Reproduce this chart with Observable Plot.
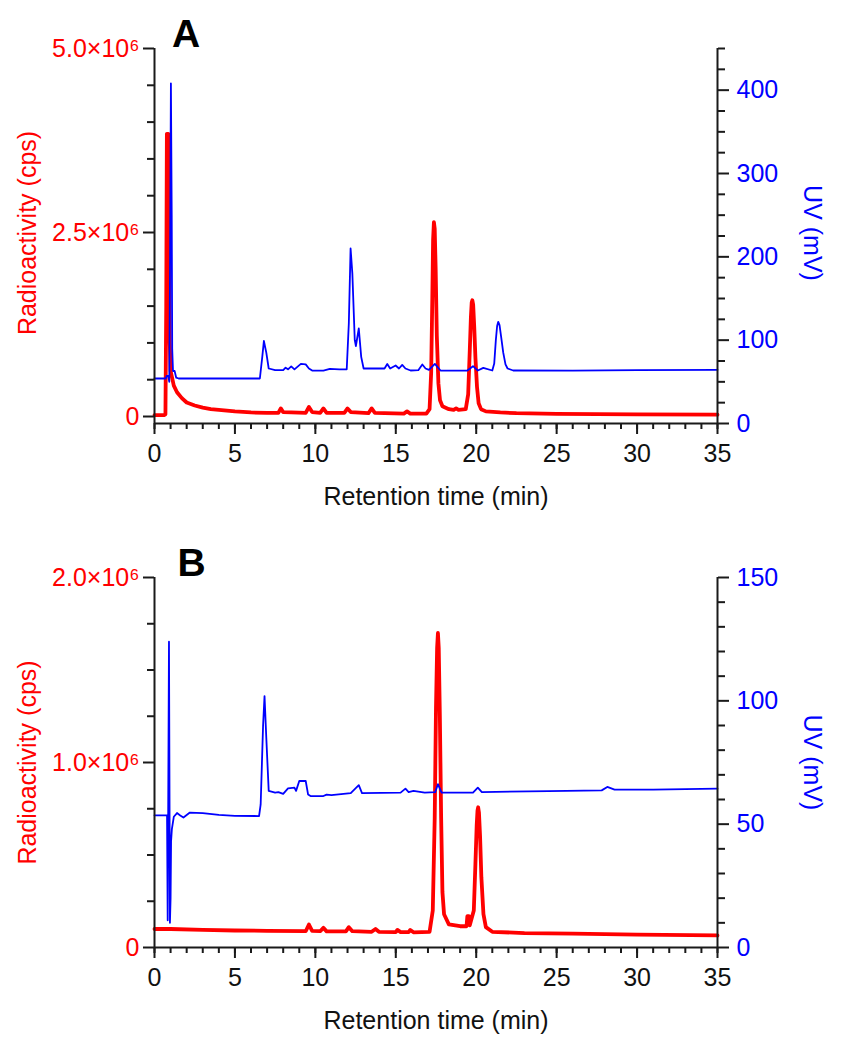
<!DOCTYPE html>
<html><head><meta charset="utf-8">
<script src="https://cdn.jsdelivr.net/npm/d3@7"></script>
<script src="https://cdn.jsdelivr.net/npm/@observablehq/plot@0.6"></script>
<style>
html,body{margin:0;padding:0;background:#fff;}
#chart{width:848px;}
#chart svg{display:block;}
</style></head><body><div id="chart"></div>
<script>
// ---------- Data ----------
// Panel A – radioactivity trace (×10^6 cps)
const radA_t = [0,0.6,0.68,0.73,0.77,0.86,0.9,0.95,1.0,1.2,1.4,1.7,2.0,2.5,3.0,3.5,4.0,5.0,6.0,7.0,7.7,7.85,8.0,8.5,9.4,9.6,9.8,10.3,10.5,10.7,11.8,12.0,12.2,13.3,13.5,13.7,15.5,15.7,15.9,16.9,17.1,17.2,17.27,17.32,17.37,17.42,17.48,17.55,17.65,17.75,17.9,18.3,18.6,18.75,18.9,19.35,19.5,19.6,19.67,19.72,19.76,19.81,19.88,19.95,20.05,20.15,20.3,20.6,21.5,22.5,25,30,35];
const radA   = [0.02,0.02,0.03,1.5,3.84,3.84,2.0,1.0,0.62,0.42,0.33,0.25,0.19,0.15,0.12,0.10,0.09,0.07,0.055,0.05,0.05,0.11,0.06,0.055,0.05,0.13,0.06,0.05,0.11,0.05,0.05,0.11,0.06,0.045,0.11,0.05,0.04,0.07,0.04,0.04,0.1,0.6,1.6,2.4,2.64,2.55,2.0,1.1,0.45,0.22,0.14,0.1,0.09,0.11,0.09,0.1,0.3,0.9,1.35,1.55,1.58,1.52,1.2,0.8,0.4,0.18,0.1,0.07,0.055,0.045,0.035,0.03,0.025];
// Panel A – UV trace (mV)
const uvA_t = [0,0.7,0.75,0.85,0.92,0.97,1.02,1.07,1.1,1.15,1.25,1.35,1.5,6.55,6.7,6.8,6.95,7.1,7.5,8.0,8.15,8.3,8.5,8.7,9.1,9.4,9.6,9.8,10.5,10.9,11.5,11.95,12.08,12.19,12.3,12.45,12.52,12.7,12.85,13.0,14.3,14.47,14.65,14.99,15.2,15.4,15.6,15.92,16.4,16.65,16.85,17.06,17.43,17.78,19.45,19.8,20.1,20.44,21.0,21.12,21.22,21.3,21.37,21.45,21.55,21.68,21.82,21.95,22.3,26,30,35];
const uvA   = [54,54,57,57,50,200,408,250,90,63,63,55,54,54,80,99,85,66,64,64,67,65,68.5,65,71.5,71,66,63.5,63.5,65.5,65,65,120,210,180,100,93,114,80,66,66,71.5,66,69.6,66,70.4,66,63.6,64,70.8,66,64.4,71.6,63.6,63.5,68.8,63.6,66.8,63.6,72,100,117,122,118,104,85,71,66,63.6,63.5,64,64.4];

// Panel B – radioactivity trace (×10^6 cps)
const radB_t = [0,1,3,5,7,9.4,9.6,9.8,10.3,10.5,10.7,11.9,12.08,12.3,13.5,13.74,13.95,15.0,15.1,15.3,15.8,15.9,16.1,17.1,17.3,17.42,17.5,17.57,17.62,17.67,17.74,17.82,17.9,18.0,18.3,19.0,19.4,19.45,19.55,19.6,19.85,19.95,20.03,20.08,20.12,20.17,20.24,20.32,20.45,20.6,21.0,23,26,30,35];
const radB   = [0.10,0.10,0.095,0.092,0.09,0.088,0.124,0.09,0.088,0.106,0.087,0.087,0.11,0.088,0.085,0.10,0.085,0.083,0.095,0.083,0.083,0.095,0.082,0.085,0.2,0.7,1.3,1.62,1.70,1.62,1.25,0.7,0.3,0.18,0.125,0.115,0.115,0.17,0.17,0.12,0.2,0.45,0.66,0.74,0.758,0.73,0.6,0.38,0.18,0.11,0.085,0.078,0.075,0.07,0.065];
// Panel B – UV trace (mV)
const uvB_t = [0,0.78,0.82,0.9,0.96,1.0,1.03,1.08,1.2,1.4,1.6,1.8,2.2,3.0,4.0,5.0,6.5,6.6,6.75,6.84,6.95,7.1,7.5,7.7,8.0,8.3,8.7,8.8,9.0,9.4,9.55,9.7,10.5,10.7,11.0,12.2,12.7,12.9,15.3,15.6,15.8,16.1,16.8,17.45,17.62,17.85,19.8,20.1,20.35,24.5,27.8,28.15,28.6,31,35];
const uvB   = [53.6,53.6,11,124,10,20,43,48,53,54.5,53.5,52.7,54.7,54.5,53.8,53.4,53.3,58,90,101.9,85,63.5,62.8,63,62.3,64.5,64.8,63.5,67.5,67.5,62,61.4,61.4,62,61.8,62.6,65.8,62.6,62.8,64.4,63,63.5,62.8,63,66.2,62.8,62.8,64.8,63,63.4,63.7,65.1,64,64,64.4];

// Axis ticks
const xMajor = [0,5,10,15,20,25,30,35];
const xMinor = d3.range(0,36,1);
const leftMajorA = [0,2.5,5.0];
const leftMinorA = [0.5,1,1.5,2,3,3.5,4,4.5];
const rightMajorA = [0,100,200,300,400];
const rightMinorA = [25,50,75,125,150,175,225,250,275,325,350,375,425,450];
const leftMajorB = [0,1.0,2.0];
const leftMinorB = [0.25,0.5,0.75,1.25,1.5,1.75];
const rightMajorB = [0,50,100,150];
const rightMinorB = [10,20,30,40,60,70,80,90,110,120,130,140];

// ---------- Drawing ----------
const FONT = "'Liberation Sans', Arial, Helvetica, sans-serif";
const AX = "#1a1a1a";
const RED = "#ff0000";
const BLUE = "#0000ff";

function fmtLeft(d) { return d === 0 ? "0" : d.toFixed(1) + "\u00d710\u2076"; }

function panel(o) {
  const toLeft = d3.scaleLinear().domain(o.uvDomain).range(o.yDomain);
  const red = o.radT.map((t, i) => ({t, v: o.rad[i]}));
  const blue = o.uvT.map((t, i) => ({t, v: toLeft(o.uv[i])}));
  return Plot.plot({
    width: 848, height: 525,
    marginLeft: 154, marginRight: 131,
    marginTop: o.marginTop, marginBottom: o.marginBottom,
    style: {fontFamily: FONT, fontSize: "25px", background: "#fff", overflow: "visible", color: AX},
    x: {domain: [0, 35]},
    y: {domain: o.yDomain},
    marks: [
      Plot.line(red, {x: "t", y: "v", stroke: RED, strokeWidth: 3.8}),
      Plot.line(blue, {x: "t", y: "v", stroke: BLUE, strokeWidth: 1.8}),
      Plot.ruleY([o.yDomain[0]], {stroke: AX, strokeWidth: 2}),
      Plot.ruleX([0, 35], {stroke: AX, strokeWidth: 2}),
      Plot.axisX({ticks: xMajor, tickSize: 11, tickPadding: 10, stroke: AX, strokeWidth: 2, fill: "#111", label: null}),
      Plot.axisX({ticks: xMinor, tickSize: 6, stroke: AX, strokeWidth: 2, fill: "none", label: null}),
      Plot.axisY({anchor: "left", ticks: o.leftMajor, tickSize: 11, tickPadding: 4, tickFormat: fmtLeft, stroke: AX, strokeWidth: 2, fill: RED, label: null}),
      Plot.axisY({anchor: "left", ticks: o.leftMinor, tickSize: 7, stroke: AX, strokeWidth: 2, fill: "none", label: null}),
      Plot.axisY({anchor: "right", ticks: o.rightMajor.map(toLeft), tickSize: 11, tickPadding: 8,
        tickFormat: d => String(Math.round(toLeft.invert(d))), stroke: AX, strokeWidth: 2, fill: BLUE, label: null}),
      Plot.axisY({anchor: "right", ticks: o.rightMinor.map(toLeft), tickSize: 7, stroke: AX, strokeWidth: 2, fill: "none", label: null}),
      Plot.text(["Radioactivity (cps)"], {text: d => d, frameAnchor: "left", textAnchor: "middle", dx: -127, dy: o.labelDy, rotate: -90, fill: RED}),
      Plot.text(["UV (mV)"], {text: d => d, frameAnchor: "right", textAnchor: "middle", dx: 94, dy: o.labelDy, rotate: 90, fill: BLUE}),
      Plot.text(["Retention time (min)"], {text: d => d, frameAnchor: "bottom", textAnchor: "middle", dy: 64, lineAnchor: "top", fill: "#111"}),
      Plot.text([o.letter], {text: d => d, frameAnchor: "top-left", textAnchor: "middle", dx: o.letterDx, dy: -29, lineAnchor: "top", fontSize: 39, fontWeight: "bold", fill: "#000"})
    ]
  });
}

const chart = document.getElementById("chart");
chart.append(panel({
  letter: "A", letterDx: 31.5, labelDy: -3,
  radT: radA_t, rad: radA, uvT: uvA_t, uv: uvA,
  yDomain: [-0.095, 5.0], uvDomain: [0, 450],
  leftMajor: leftMajorA, leftMinor: leftMinorA, rightMajor: rightMajorA, rightMinor: rightMinorA,
  marginTop: 48, marginBottom: 102
}));
chart.append(panel({
  letter: "B", letterDx: 37, labelDy: 0,
  radT: radB_t, rad: radB, uvT: uvB_t, uv: uvB,
  yDomain: [0, 2.0], uvDomain: [0, 150],
  leftMajor: leftMajorB, leftMinor: leftMinorB, rightMajor: rightMajorB, rightMinor: rightMinorB,
  marginTop: 52, marginBottom: 103
}));
</script></body></html>
